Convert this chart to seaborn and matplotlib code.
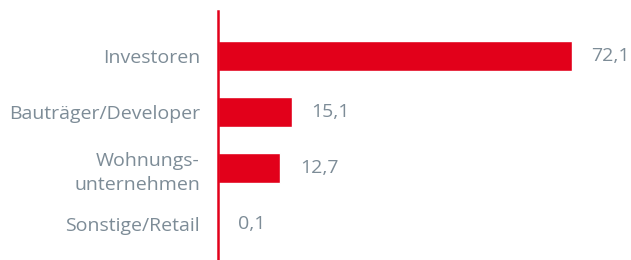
import matplotlib
matplotlib.use("Agg")
import matplotlib.pyplot as plt
import seaborn as sns
import pandas as pd

# === Data ===
categories = ["Investoren", "Bauträger/Developer", "Wohnungs-\nunternehmen", "Sonstige/Retail"]
values = [72.1, 15.1, 12.7, 0.1]
value_labels = ["72,1", "15,1", "12,7", "0,1"]

RED = "#E2001A"
GREY = "#7D8C97"

sns.set_theme(style="white")
plt.rcParams["font.family"] = ["Open Sans", "DejaVu Sans"]

df = pd.DataFrame({"Kategorie": categories, "Anteil": values})

fig = plt.figure(figsize=(6.31, 2.6), dpi=100)
ax = fig.add_axes([218 / 631, 0, 413 / 631, 249 / 260])

sns.barplot(data=df, x="Anteil", y="Kategorie", color=RED, width=0.53,
            saturation=1, ax=ax)

# value labels
ax.bar_label(ax.containers[0], labels=value_labels, padding=14,
             color=GREY, fontsize=14)

ax.set_xlim(0, 84.2)
ax.set_ylim(3.65, -0.8)
ax.set_xlabel("")
ax.set_ylabel("")
ax.set_xticks([])
ax.tick_params(axis="y", length=0, pad=13, labelsize=14, labelcolor=GREY)
for lbl in ax.get_yticklabels():
    lbl.set_horizontalalignment("right")
    lbl.set_multialignment("right")
    lbl.set_linespacing(1.45)

for s in ["top", "right", "bottom"]:
    ax.spines[s].set_visible(False)
ax.spines["left"].set_color(RED)
ax.spines["left"].set_linewidth(1.8)

fig.savefig("out.png", dpi=100)
